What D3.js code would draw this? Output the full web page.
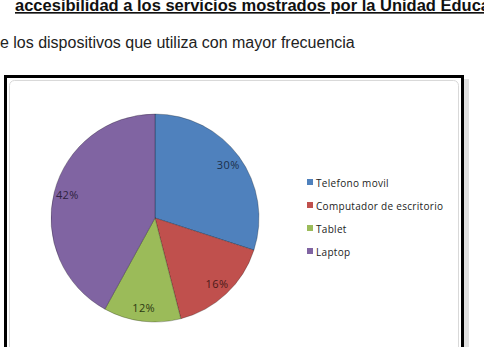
<!DOCTYPE html>
<html>
<head>
<meta charset="utf-8">
<script src="https://cdn.jsdelivr.net/npm/d3@7"></script>
<style>
  body { margin: 0; background: #fff; overflow: hidden; }
  .leo-svg { display: block; }
</style>
</head>
<body>
<div id="chart"></div>
<script>
const categories = ["Telefono movil", "Computador de escritorio", "Tablet", "Laptop"];
const values = [30, 16, 12, 42];
const colors = ["#4F81BD", "#C0504D", "#9BBB59", "#8064A2"];
const labelColors = ["#1c2f4a", "#4a1a19", "#2b3a12", "#2e2240"];

const width = 484, height = 347;

const svg = d3.select("#chart").append("svg")
    .attr("width", width)
    .attr("height", height)
    .attr("class", "leo-svg");

// document text above the chart (cropped in the original scan)
svg.append("text")
    .attr("x", 15).attr("y", 11)
    .attr("font-family", "Liberation Sans, Arial, sans-serif")
    .attr("font-size", 16.5).attr("font-weight", "bold")
    .attr("text-decoration", "underline")
    .attr("fill", "#111")
    .text("accesibilidad a los servicios mostrados por la Unidad Educativa");

svg.append("text")
    .attr("x", -9).attr("y", 48)
    .attr("font-family", "Liberation Sans, Arial, sans-serif")
    .attr("font-size", 16)
    .attr("fill", "#222")
    .text("de los dispositivos que utiliza con mayor frecuencia");

// chart frame with shadow
svg.append("rect")
    .attr("x", 8).attr("y", 79).attr("width", 461).attr("height", 300)
    .attr("fill", "#ccc").attr("opacity", 0.6);
svg.append("rect")
    .attr("x", 5.5).attr("y", 76.5).attr("width", 457).attr("height", 300)
    .attr("fill", "#fff").attr("stroke", "#000").attr("stroke-width", 3);
svg.append("rect")
    .attr("x", 9.5).attr("y", 80.5).attr("width", 449).attr("height", 290)
    .attr("rx", 5)
    .attr("fill", "#fff").attr("stroke", "#d9d9d9").attr("stroke-width", 1);

const cx = 155, cy = 218, r = 104;

const pie = d3.pie().sort(null).value(d => d);
const arc = d3.arc().innerRadius(0).outerRadius(r);
const labelArc = d3.arc().innerRadius(r * 0.87).outerRadius(r * 0.87);

const g = svg.append("g").attr("transform", `translate(${cx},${cy})`);
const arcs = pie(values);

g.selectAll("path")
    .data(arcs)
    .join("path")
    .attr("d", arc)
    .attr("fill", (d, i) => colors[i])
    .attr("stroke", "rgba(0,0,0,0.25)")
    .attr("stroke-width", 1);

g.selectAll("text")
    .data(arcs)
    .join("text")
    .attr("transform", d => `translate(${labelArc.centroid(d)})`)
    .attr("text-anchor", "middle")
    .attr("dy", "0.35em")
    .attr("font-family", "Open Sans, sans-serif")
    .attr("font-size", 11)
    .attr("letter-spacing", 0.4)
    .attr("fill", (d, i) => labelColors[i])
    .text(d => d.data + "%");

// legend
const legend = svg.append("g").attr("transform", "translate(307,183)");
const item = legend.selectAll("g")
    .data(categories)
    .join("g")
    .attr("transform", (d, i) => `translate(0,${i * 23})`);
item.append("rect")
    .attr("x", 0).attr("y", -4).attr("width", 6).attr("height", 6)
    .attr("fill", (d, i) => colors[i]);
item.append("text")
    .attr("x", 9).attr("dy", "0.35em")
    .attr("font-family", "Open Sans, sans-serif")
    .attr("font-size", 10)
    .attr("letter-spacing", 0.3)
    .attr("fill", "#222")
    .text(d => d);
</script>
</body>
</html>
